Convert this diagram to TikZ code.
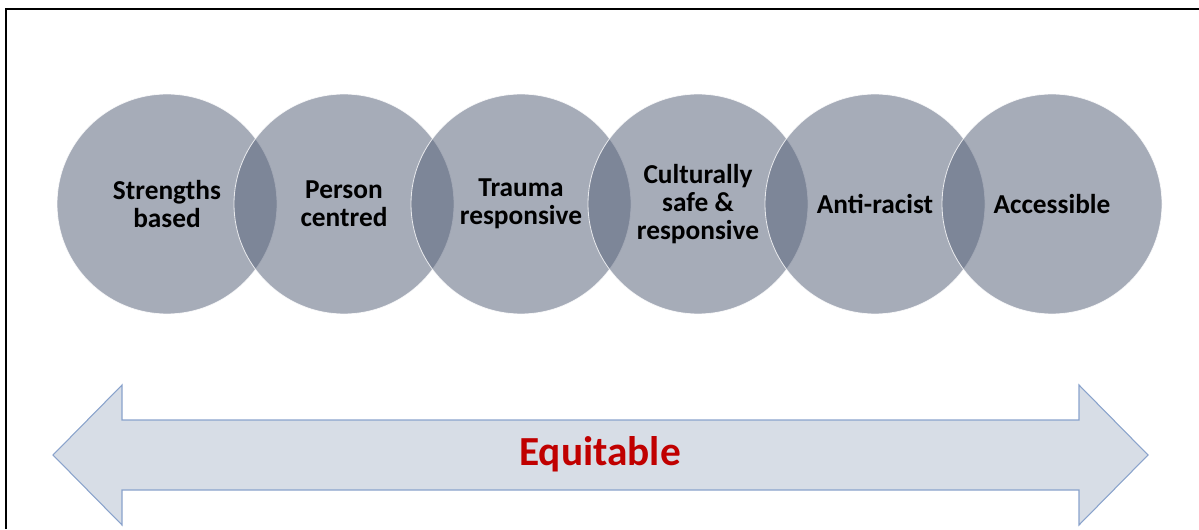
\documentclass[tikz,border=0pt]{standalone}
\usepackage{fontspec}
\setmainfont{Carlito}
\definecolor{bubblegrey}{HTML}{5A657C}
\definecolor{arrowfill}{HTML}{D7DDE6}
\definecolor{arrowline}{HTML}{8AA3CC}
\definecolor{equired}{HTML}{C00000}

\begin{document}
\begin{tikzpicture}[x=0.75pt, y=0.75pt,
  bubble/.style={circle, fill=bubblegrey, fill opacity=0.54, text opacity=1,
    draw=white, draw opacity=0.8, line width=0.6pt, minimum size=165pt,
    inner sep=0pt, align=center, font=\fontsize{20.5}{21}\selectfont\bfseries}]
\useasboundingbox (0,0) rectangle (1199,529);
% frame
\draw[line width=1.6pt] (6,0) -- (6,520) -- (1199,520);
% the six overlapping circles
\node[bubble] (strengths) at (167,325) {Strengths\\based};
\node[bubble] (person) at (344,325) {Person\\centred};
\node[bubble] (trauma) at (521,325) {Trauma\\responsive};
\node[bubble] (culture) at (698,325) {Culturally\\safe \&\\responsive};
\node[bubble] (antiracist) at (875,325) {Anti-racist};
\node[bubble] (access) at (1052,325) {Accessible};
% double arrow underneath
\draw[arrowline, fill=arrowfill, line width=0.8pt] (53,74) -- (122,144) -- (122,109) -- (1079,109) -- (1079,144) -- (1148,74) -- (1079,4) -- (1079,39) -- (122,39) -- (122,4) -- cycle;
\node[text=equired, font=\fontsize{31}{36}\selectfont\bfseries] (equitable) at (600,75) {Equitable};
\end{tikzpicture}
\end{document}
